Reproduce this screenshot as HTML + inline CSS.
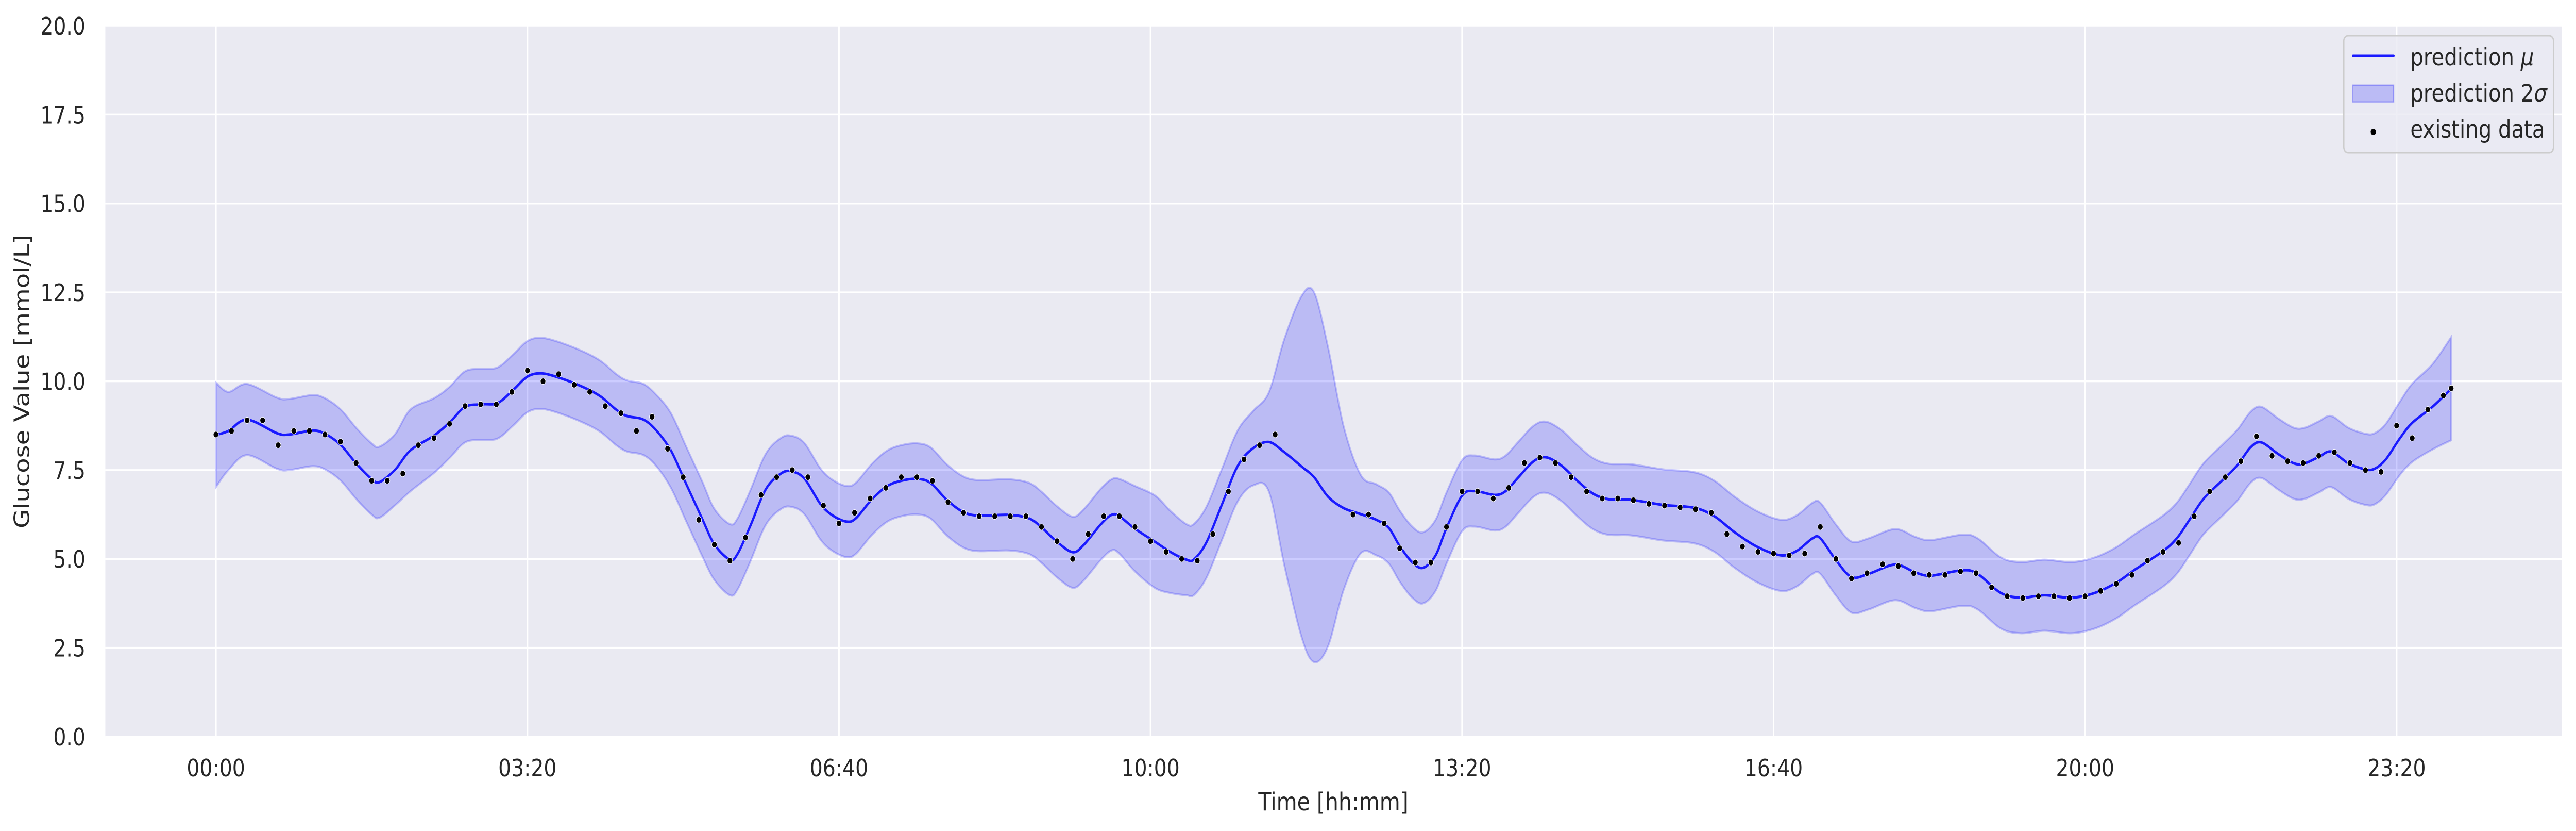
<!DOCTYPE html>
<html><head><meta charset="utf-8"><style>
html,body{margin:0;padding:0;background:#fff;overflow:hidden;width:100vw;height:100vh;}
svg{display:block;width:100vw;height:100vh;font-family:"DejaVu Sans","Liberation Sans",sans-serif;}
</style></head><body>
<svg id="chart" viewBox="0 0 5846 1612" preserveAspectRatio="none">
<rect x="239" y="50" width="5575" height="1379" fill="#eaeaf2"/>
<g id="grid"></g>
<g id="band"></g>
<g id="line"></g>
<g id="dots"></g>
<g id="ticks"></g>
<text x="3026" y="1572" font-size="48" fill="#262626" text-anchor="middle">Time [hh:mm]</text>
<text transform="translate(66,740) rotate(-90)" font-size="48" fill="#262626" text-anchor="middle">Glucose Value [mmol/L]</text>
<g>
<rect x="5319" y="69" width="476" height="227" rx="10" fill="#eaeaf2" fill-opacity="0.8" stroke="#cccccc" stroke-width="3"/>
<line x1="5340" y1="108" x2="5432" y2="108" stroke="#1a1aff" stroke-width="5" stroke-linecap="round"/>
<text x="5470" y="127" font-size="47" fill="#262626">prediction <tspan font-style="italic">μ</tspan></text>
<rect x="5339" y="165" width="93" height="33" fill="#0000ff" fill-opacity="0.2" stroke="#0000ff" stroke-opacity="0.25" stroke-width="3"/>
<text x="5470" y="197" font-size="47" fill="#262626">prediction 2<tspan font-style="italic">σ</tspan></text>
<circle cx="5386" cy="256" r="6" fill="#000"/>
<text x="5470" y="267" font-size="47" fill="#262626">existing data</text>
</g>
</svg>
<script>
const yTicks = [0, 2.5, 5, 7.5, 10, 12.5, 15, 17.5, 20];
const xTicks = [0, 200, 400, 600, 800, 1000, 1200, 1400];
const xTickLabels = ["00:00","03:20","06:40","10:00","13:20","16:40","20:00","23:20"];
const meanTimes = [0,8,20,39,47,62,70,80,90,100,105,115,125,140,150,160,171,181,191,200,209,221,236,247,257,264,274,282,292,302,312,320,330,335,343,353,363,370,378,388,396,405,411,421,431,441,451,459,469,479,489,509,522,530,540,550,557,568,575,580,590,603,613,623,628,636,646,656,666,676,686,697,705,714,724,735,745,753,760,768,775,783,790,800,808,821,828,836,846,854,864,874,884,894,909,929,949,962,975,990,1005,1015,1025,1030,1040,1050,1061,1078,1091,1101,1121,1131,1146,1159,1174,1191,1206,1220,1232,1250,1259,1267,1276,1289,1298,1306,1313,1324,1334,1341,1350,1358,1369,1380,1386,1393,1402,1410,1423,1435];
const meanValues = [8.49,8.6,8.92,8.54,8.50,8.61,8.52,8.21,7.69,7.25,7.16,7.51,8.06,8.47,8.84,9.28,9.35,9.39,9.76,10.13,10.22,10.09,9.83,9.57,9.20,9.02,8.93,8.65,8.06,7.10,6.15,5.41,4.98,5.15,5.92,6.96,7.41,7.46,7.25,6.55,6.22,6.05,6.15,6.67,7.05,7.21,7.25,7.13,6.67,6.34,6.22,6.24,6.14,5.89,5.48,5.19,5.39,5.97,6.24,6.20,5.85,5.48,5.19,4.98,4.99,5.48,6.55,7.62,8.12,8.29,8.0,7.6,7.3,6.75,6.43,6.26,6.1,5.87,5.36,4.91,4.75,5.10,5.87,6.78,6.91,6.80,6.91,7.29,7.75,7.86,7.62,7.20,6.84,6.68,6.66,6.52,6.44,6.20,5.75,5.33,5.10,5.23,5.58,5.58,4.97,4.49,4.58,4.84,4.62,4.53,4.68,4.58,4.04,3.91,3.98,3.91,4.04,4.33,4.70,5.22,5.59,6.10,6.69,7.25,7.65,8.13,8.28,7.95,7.69,7.69,7.87,8.02,7.69,7.52,7.54,7.80,8.39,8.83,9.28,9.79];
const bandHalf = [1.47,1.1,1.0,1.0,1.0,1.0,1.0,1.0,1.0,1.0,1.0,1.0,1.15,1.05,1.0,1.0,1.0,1.0,1.0,1.0,1.0,1.0,1.0,1.0,1.0,1.0,1.0,1.0,1.05,1.05,1.05,1.0,1.0,1.0,1.0,1.0,1.0,1.0,1.0,1.0,1.0,1.0,1.0,1.0,1.0,1.0,1.0,1.0,1.0,1.0,1.0,1.0,1.0,1.0,1.0,1.0,1.0,1.0,1.0,1.05,1.2,1.3,1.15,1.0,1.0,1.0,1.0,1.0,1.05,1.4,3.2,4.8,5.2,4.2,2.3,1.1,1.0,1.0,1.0,1.0,1.0,1.0,1.0,1.0,1.0,1.0,1.0,1.0,1.0,1.0,1.0,1.0,1.0,1.0,1.0,1.0,1.0,1.0,1.0,1.0,1.0,1.0,1.0,1.0,1.0,1.0,1.0,1.0,1.0,1.0,1.0,1.0,1.0,1.0,1.0,1.0,1.0,1.0,1.0,1.0,1.0,1.0,1.0,1.0,1.0,1.0,1.0,1.0,1.0,1.0,1.0,1.0,1.0,1.0,1.0,1.0,1.03,1.1,1.2,1.45];
const dotTimes = [0,10,20,30,40,50,60,70,80,90,100,110,120,130,140,150,160,170,180,190,200,210,220,230,240,250,260,270,280,290,300,310,320,330,340,350,360,370,380,390,400,410,420,430,440,450,460,470,480,490,500,510,520,530,540,550,560,570,580,590,600,610,620,630,640,650,660,670,680,730,740,750,760,770,780,790,800,810,820,830,840,850,860,870,880,890,900,910,920,930,940,950,960,970,980,990,1000,1010,1020,1030,1040,1050,1060,1070,1080,1090,1100,1110,1120,1130,1140,1150,1160,1170,1180,1190,1200,1210,1220,1230,1240,1250,1260,1270,1280,1290,1300,1310,1320,1330,1340,1350,1360,1370,1380,1390,1400,1410,1420,1430,1435];
const dotValues = [8.5,8.6,8.9,8.9,8.2,8.6,8.6,8.5,8.3,7.7,7.2,7.2,7.4,8.2,8.4,8.8,9.3,9.35,9.35,9.7,10.3,10.0,10.2,9.9,9.7,9.3,9.1,8.6,9.0,8.1,7.3,6.1,5.4,4.95,5.6,6.8,7.3,7.5,7.3,6.5,6.0,6.3,6.7,7.0,7.3,7.3,7.2,6.6,6.3,6.2,6.2,6.2,6.2,5.9,5.5,5.0,5.7,6.2,6.2,5.9,5.5,5.2,5.0,4.95,5.7,6.9,7.8,8.2,8.5,6.25,6.25,6.0,5.3,4.9,4.9,5.9,6.9,6.9,6.7,7.0,7.7,7.85,7.7,7.3,6.9,6.7,6.7,6.65,6.55,6.5,6.45,6.4,6.3,5.7,5.35,5.2,5.15,5.1,5.15,5.9,5.0,4.45,4.6,4.85,4.8,4.6,4.55,4.55,4.65,4.6,4.2,3.95,3.9,3.95,3.95,3.9,3.95,4.1,4.3,4.55,4.95,5.2,5.45,6.2,6.9,7.3,7.75,8.45,7.9,7.75,7.7,7.9,8.0,7.7,7.5,7.45,8.75,8.4,9.2,9.6,9.8];

const NS = "http://www.w3.org/2000/svg";
const X0 = 490, PXMIN = 3.535, Y0 = 1429, PXV = 68.95;
const PL = 239, PR = 5814, PT = 50, PB = 1429;
function sx(t){ return X0 + t * PXMIN; }
function sy(v){ return Y0 - v * PXV; }
function mk(tag, attrs, parent){
  const e = document.createElementNS(NS, tag);
  for (const k in attrs) e.setAttribute(k, attrs[k]);
  parent.appendChild(e);
  return e;
}
function smoothPath(pts, move){
  let d = (move ? "M" : "L") + pts[0][0].toFixed(1) + "," + pts[0][1].toFixed(1);
  for (let i = 0; i < pts.length - 1; i++){
    const p0 = pts[Math.max(0, i-1)], p1 = pts[i], p2 = pts[i+1], p3 = pts[Math.min(pts.length-1, i+2)];
    const c1x = p1[0] + (p2[0]-p0[0])/6, c1y = p1[1] + (p2[1]-p0[1])/6;
    const c2x = p2[0] - (p3[0]-p1[0])/6, c2y = p2[1] - (p3[1]-p1[1])/6;
    d += "C" + c1x.toFixed(1) + "," + c1y.toFixed(1) + " " + c2x.toFixed(1) + "," + c2y.toFixed(1) + " " + p2[0].toFixed(1) + "," + p2[1].toFixed(1);
  }
  return d;
}
const grid = document.getElementById("grid");
const ticks = document.getElementById("ticks");
yTicks.forEach(v => {
  const l = mk("line", {x1: PL, x2: PR, y1: sy(v), y2: sy(v), stroke: "#fff", "stroke-width": 3.5}, grid);
  
  
  const t = mk("text", {x: 194, y: sy(v) + 17, "font-size": 46, fill: "#262626", "text-anchor": "end"}, ticks);
  t.textContent = v.toFixed(1);
  
  
});
xTicks.forEach((m, i) => {
  const l = mk("line", {x1: sx(m), x2: sx(m), y1: PT, y2: PB, stroke: "#fff", "stroke-width": 3.5}, grid);
  
  
  const t = mk("text", {x: sx(m), y: 1506, "font-size": 46, fill: "#262626", "text-anchor": "middle"}, ticks);
  t.textContent = xTickLabels[i];
  
  
});
const upper = meanTimes.map((t, i) => [sx(t), sy(meanValues[i] + bandHalf[i])]);
const lower = meanTimes.map((t, i) => [sx(t), sy(meanValues[i] - bandHalf[i])]).reverse();
const bd = smoothPath(upper, true) + smoothPath(lower, false) + "Z";
const band = mk("path", {d: bd, fill: "#0000ff", "fill-opacity": 0.2, stroke: "#0000ff", "stroke-opacity": 0.2, "stroke-width": 4}, document.getElementById("band"));


const meanPts = meanTimes.map((t, i) => [sx(t), sy(meanValues[i])]);
const ln = mk("path", {d: smoothPath(meanPts, true), fill: "none", stroke: "#1a1aff", "stroke-width": 5, "stroke-linejoin": "round"}, document.getElementById("line"));


const dg = document.getElementById("dots");
dotTimes.forEach((t, i) => {
  const c = mk("circle", {cx: sx(t), cy: sy(dotValues[i]), r: 6, fill: "#000", stroke: "#fff", "stroke-width": 1}, dg);
  
  
});
</script>
</body></html>
